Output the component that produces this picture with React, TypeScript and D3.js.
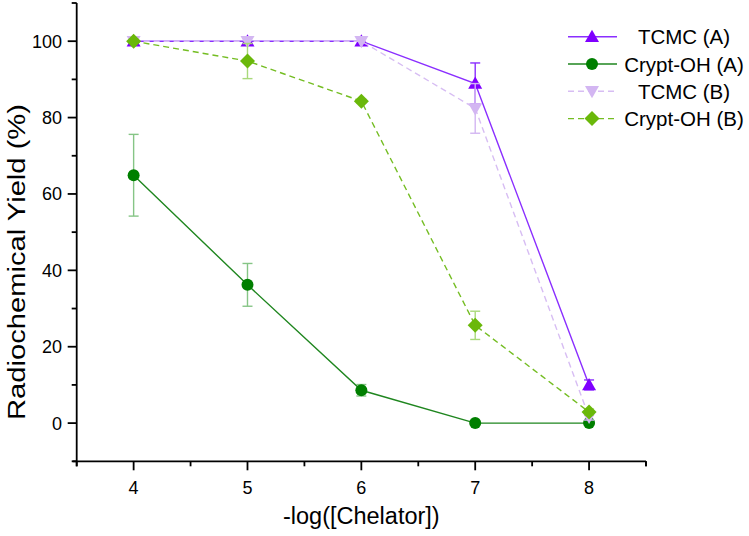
import React from "react";
import * as d3 from "d3";

const xValues = [4, 5, 6, 7, 8];
const tcmcA = [100, 100, 100, 88.9, 10];
const tcmcAErr = [0.4, 0.4, 0.4, 5.4, 1.3];
const cryptA = [64.9, 36.2, 8.6, 0, 0];
const cryptAErr = [10.7, 5.6, 1.5, 0.3, 0.3];
const tcmcB = [100, 100, 100, 82.4, 1.6];
const tcmcBErr = [0.4, 0.4, 0.4, 6.5, 0.8];
const cryptB = [100, 94.8, 84.3, 25.6, 2.9];
const cryptBErr = [0.4, 4.6, 0.5, 3.7, 0.8];

const xTicks = [4, 5, 6, 7, 8];
const yTicks = [0, 20, 40, 60, 80, 100];
const seriesNames = ["TCMC (A)", "Crypt-OH (A)", "TCMC (B)", "Crypt-OH (B)"];

const FONT = "'Liberation Sans', Arial, sans-serif";

type Series = {
  name: string;
  values: number[];
  errs: number[];
  marker: string;
  line: string;
  err: string;
  dash?: string;
  shape: "tri" | "circle" | "tridown" | "diamond";
};

const series: Series[] = [
  { name: seriesNames[0], values: tcmcA, errs: tcmcAErr, marker: "#7f00ff", line: "#8a2eff", err: "#8a2eff", shape: "tri" },
  { name: seriesNames[1], values: cryptA, errs: cryptAErr, marker: "#007f00", line: "#1f861f", err: "#86c586", shape: "circle" },
  { name: seriesNames[2], values: tcmcB, errs: tcmcBErr, marker: "#d3b6f2", line: "#d7bdf3", err: "#d3b6f2", dash: "6,4", shape: "tridown" },
  { name: seriesNames[3], values: cryptB, errs: cryptBErr, marker: "#6ab80a", line: "#74bd22", err: "#a9d97a", dash: "6,4", shape: "diamond" },
];

function Marker({ shape, x, y, color }: { shape: string; x: number; y: number; color: string }) {
  if (shape === "circle") return <circle cx={x} cy={y} r={6} fill={color} />;
  if (shape === "tri") {
    const s = 7;
    return <path d={`M${x},${y - s} L${x + s},${y + s * 0.75} L${x - s},${y + s * 0.75} Z`} fill={color} />;
  }
  if (shape === "tridown") {
    const s = 7;
    return <path d={`M${x},${y + s} L${x + s},${y - s * 0.75} L${x - s},${y - s * 0.75} Z`} fill={color} />;
  }
  const s = 7.5;
  return <path d={`M${x},${y - s} L${x + s},${y} L${x},${y + s} L${x - s},${y} Z`} fill={color} />;
}

export default function App() {
  const x = d3.scaleLinear().domain([3.5, 8.5]).range([76.7, 646]);
  const y = d3.scaleLinear().domain([-10, 110]).range([461.3, 3]);
  const xMinor = d3.range(3.5, 8.51, 0.5).filter((v) => Math.abs(v - Math.round(v)) > 0.01);
  const yMinor = d3.range(-10, 110.1, 20);

  const lineGen = d3
    .line<number>()
    .x((_, i) => x(xValues[i]))
    .y((d) => y(d));

  return (
    <svg
      width={749}
      height={536}
      style={{ position: "absolute", left: 0, top: 0, background: "#fff" }}
      fontFamily={FONT}
    >
      <rect width={749} height={536} fill="#fff" />
      {/* Series */}
      {series.map((s) => (
        <g key={s.name}>
          {s.values.map((v, i) => {
            const cx = x(xValues[i]);
            const e = s.errs[i];
            if (e < 0.5) return null;
            return (
              <g key={i} stroke={s.err} strokeWidth={1.4}>
                <line x1={cx} x2={cx} y1={y(v - e)} y2={y(v + e)} />
                <line x1={cx - 5} x2={cx + 5} y1={y(v - e)} y2={y(v - e)} />
                <line x1={cx - 5} x2={cx + 5} y1={y(v + e)} y2={y(v + e)} />
              </g>
            );
          })}
          <path d={lineGen(s.values) || ""} fill="none" stroke={s.line} strokeWidth={1.4} strokeDasharray={s.dash} />
          {s.values.map((v, i) => (
            <Marker key={i} shape={s.shape} x={x(xValues[i])} y={y(v)} color={s.marker} />
          ))}
        </g>
      ))}

      {/* Axes */}
      <g stroke="#000" strokeWidth={1.8} fill="none">
        <line x1={x(3.5)} x2={x(3.5)} y1={y(110)} y2={y(-10)} />
        <line x1={x(3.5) - 4} x2={x(8.5)} y1={y(-10)} y2={y(-10)} />
        {xTicks.map((t) => (
          <line key={t} x1={x(t)} x2={x(t)} y1={y(-10)} y2={y(-10) + 9} />
        ))}
        {xMinor.concat([3.5, 8.5]).map((t) => (
          <line key={"m" + t} x1={x(t)} x2={x(t)} y1={y(-10)} y2={y(-10) + 5} />
        ))}
        {yTicks.map((t) => (
          <line key={t} x1={x(3.5) - 9} x2={x(3.5)} y1={y(t)} y2={y(t)} />
        ))}
        {yMinor.map((t) => (
          <line key={"m" + t} x1={x(3.5) - 5} x2={x(3.5)} y1={y(t)} y2={y(t)} />
        ))}
      </g>
      <g fontSize={18} fill="#000">
        {xTicks.map((t) => (
          <text key={t} x={x(t)} y={494} textAnchor="middle">
            {t}
          </text>
        ))}
        {yTicks.map((t) => (
          <text key={t} x={62} y={y(t) + 6.5} textAnchor="end">
            {t}
          </text>
        ))}
      </g>
      <text x={x(6)} y={524} textAnchor="middle" fontSize={23.5} fill="#000">
        -log([Chelator])
      </text>
      <text
        transform={`translate(25,262) rotate(-90)`}
        textAnchor="middle"
        fontSize={23}
        fill="#000"
        textLength={316}
        lengthAdjust="spacingAndGlyphs"
      >
        Radiochemical Yield (%)
      </text>

      {/* Legend */}
      {series.map((s, i) => {
        const ly = 36.7 + i * 27.3;
        return (
          <g key={"lg" + s.name}>
            <line x1={568} x2={617} y1={ly} y2={ly} stroke={s.line} strokeWidth={1.4} strokeDasharray={s.dash} />
            <Marker shape={s.shape} x={592} y={ly} color={s.marker} />
            <text x={684} y={ly + 7.5} textAnchor="middle" fontSize={20.5} fill="#000">
              {s.name}
            </text>
          </g>
        );
      })}
    </svg>
  );
}
